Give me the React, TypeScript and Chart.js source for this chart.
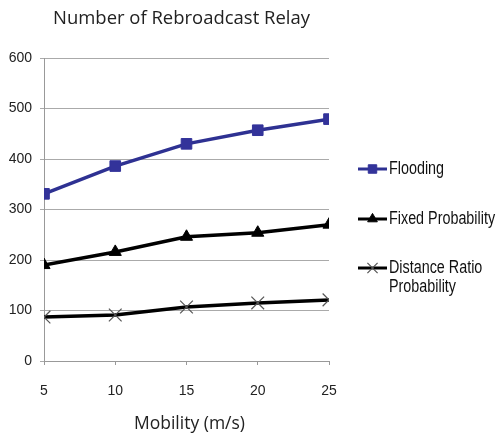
import React, { useEffect, useRef } from 'react';
import { Chart, registerables } from 'chart.js';
import { drawPoint } from 'chart.js/helpers';

Chart.register(...registerables);

const mobility = [5, 10, 15, 20, 25];
const flooding = [331, 386, 430, 457, 479];
const fixedProbability = [190, 216, 246, 254, 270];
const distanceRatio = [87, 91, 107, 115, 121];
const yTickValues = [0, 100, 200, 300, 400, 500, 600];
const seriesLabels: (string | string[])[] = ['Flooding', 'Fixed Probability', ['Distance Ratio', 'Probability']];
const chartTitle = 'Number of Rebroadcast Relay';
const xAxisTitle = 'Mobility (m/s)';

const ARIAL = '"Liberation Sans", Arial, sans-serif';
const HUMAN = '"Open Sans", "Noto Sans", sans-serif';

function drawCompressed(ctx: CanvasRenderingContext2D, text: string, x: number, y: number, sx: number, align: CanvasTextAlign) {
  ctx.save();
  ctx.translate(x, y);
  ctx.scale(sx, 1);
  ctx.textAlign = align;
  ctx.fillText(text, 0, 0);
  ctx.restore();
}

const textPlugin = {
  id: 'customText',
  afterDraw(chart: any) {
    const { ctx, chartArea } = chart;
    const ca = chartArea;
    ctx.save();
    ctx.fillStyle = '#222';
    ctx.textBaseline = 'alphabetic';
    ctx.font = `19px ${HUMAN}`;
    const tw = ctx.measureText(chartTitle).width;
    drawCompressed(ctx, chartTitle, (ca.left + ca.right) / 2 - 5, 24, Math.min(1, 257 / tw), 'center');
    const xw = ctx.measureText(xAxisTitle).width;
    drawCompressed(ctx, xAxisTitle, (ca.left + ca.right) / 2 + 3, ca.bottom + 68, Math.min(1, 111 / xw), 'center');

    // legend
    const rows = [111, 161, 210];
    chart.data.datasets.forEach((ds: any, i: number) => {
      const y = ca.top + rows[i];
      const x0 = ca.right + 29;
      const x1 = ca.right + 58;
      ctx.save();
      ctx.strokeStyle = ds.borderColor;
      ctx.lineWidth = 3;
      ctx.beginPath();
      ctx.moveTo(x0, y);
      ctx.lineTo(x1, y);
      ctx.stroke();
      ctx.fillStyle = ds.pointBackgroundColor;
      ctx.strokeStyle = ds.pointBorderColor;
      ctx.lineWidth = ds.pointBorderWidth;
      drawPoint(ctx, { pointStyle: ds.pointStyle, radius: ds.pointRadius * 0.8, rotation: 0, borderWidth: ds.pointBorderWidth } as any, (x0 + x1) / 2, y);
      ctx.restore();
      ctx.fillStyle = '#111';
      ctx.font = `17.5px ${ARIAL}`;
      ctx.textBaseline = 'middle';
      const lab = seriesLabels[i];
      const lines = Array.isArray(lab) ? lab : [lab];
      lines.forEach((t, k) => drawCompressed(ctx, t, x1 + 2, y + k * 19, 0.82, 'left'));
    });
    ctx.restore();
  },
};

export default function App() {
  const ref = useRef<HTMLCanvasElement>(null);
  useEffect(() => {
    if (!ref.current) return;
    const chart = new Chart(ref.current, {
      type: 'line',
      data: {
        datasets: [
          {
            label: 'Flooding',
            data: mobility.map((x, i) => ({ x, y: flooding[i] })),
            borderColor: '#2E3192',
            borderWidth: 3.5,
            pointStyle: 'rect',
            pointRadius: 7.5,
            pointBackgroundColor: '#33339A',
            pointBorderColor: '#33339A',
            pointBorderWidth: 1,
          },
          {
            label: 'Fixed Probability',
            data: mobility.map((x, i) => ({ x, y: fixedProbability[i] })),
            borderColor: '#000',
            borderWidth: 3.5,
            pointStyle: 'triangle',
            pointRadius: 7,
            pointBackgroundColor: '#000',
            pointBorderColor: '#000',
            pointBorderWidth: 1,
          },
          {
            label: 'Distance Ratio Probability',
            data: mobility.map((x, i) => ({ x, y: distanceRatio[i] })),
            borderColor: '#000',
            borderWidth: 3.5,
            pointStyle: 'crossRot',
            pointRadius: 9,
            pointBackgroundColor: '#555',
            pointBorderColor: '#555',
            pointBorderWidth: 1.2,
          },
        ] as any,
      },
      options: {
        animation: false,
        responsive: false,
        layout: { padding: { top: 58, right: 168, left: 0, bottom: 0 } },
        plugins: { legend: { display: false }, title: { display: false }, tooltip: { enabled: false } },
        scales: {
          x: {
            type: 'linear',
            min: mobility[0],
            max: mobility[mobility.length - 1],
            afterBuildTicks: (s: any) => { s.ticks = mobility.map((v) => ({ value: v })); },
            afterFit: (s: any) => { s.height = 74; },
            ticks: { color: '#222', font: { family: ARIAL, size: 14 }, padding: 18 },
            grid: { drawOnChartArea: false, tickLength: 4, color: '#999' },
            border: { color: '#999', width: 1 },
          },
          y: {
            min: 0,
            max: 600,
            afterBuildTicks: (s: any) => { s.ticks = yTickValues.map((v) => ({ value: v })); },
            afterFit: (s: any) => { s.width = 44; },
            ticks: { color: '#222', font: { family: ARIAL, size: 14 }, padding: 8 },
            grid: { color: '#aaa', tickLength: 4 },
            border: { color: '#999', width: 1 },
          },
        },
      } as any,
      plugins: [textPlugin],
    });
    return () => chart.destroy();
  }, []);
  return (
    <div style={{ position: 'absolute', left: 0, top: 0, width: 497, height: 435, background: '#fff' }}>
      <canvas ref={ref} width={497} height={435} style={{ display: 'block', width: 497, height: 435 }} />
    </div>
  );
}
